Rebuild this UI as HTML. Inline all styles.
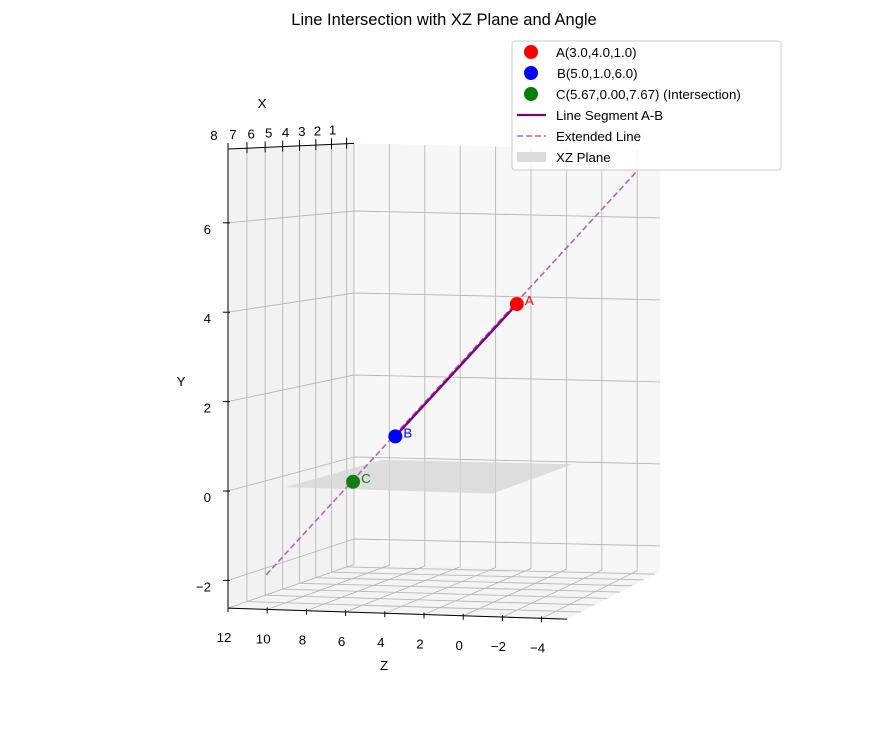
<!DOCTYPE html>
<html><head><meta charset="utf-8"><style>
html,body{margin:0;padding:0;background:#fff;}
svg{display:block;font-family:"Liberation Sans","DejaVu Sans",sans-serif;}
</style></head><body>
<svg id="chart" width="888" height="735" viewBox="0 0 888 735" xmlns="http://www.w3.org/2000/svg">
<text x="444" y="25" text-anchor="middle" font-size="16.5" fill="#000">Line Intersection with XZ Plane and Angle</text>
<g id="panes"></g>
<g id="grid"></g>
<g id="plane"></g>
<g id="series"></g>
<g id="axes"></g>
<text x="262" y="108" text-anchor="middle" font-size="13.3">X</text>
<text x="181" y="386" text-anchor="middle" font-size="13.3">Y</text>
<text x="384" y="670" text-anchor="middle" font-size="13.3">Z</text>
<g>
<rect x="512" y="41" width="269" height="129" rx="3" fill="#fff" fill-opacity="0.8" stroke="#ccc" stroke-width="1"/>
<g><circle cx="531" cy="52" r="7" fill="#ff0000"/><text x="556" y="57" font-size="13.3">A(3.0,4.0,1.0)</text></g>
<g><circle cx="531" cy="73" r="7" fill="#0000ff"/><text x="557" y="78" font-size="13.3">B(5.0,1.0,6.0)</text></g>
<g><circle cx="531" cy="94" r="7" fill="#008000"/><text x="556" y="99" font-size="13.3">C(5.67,0.00,7.67) (Intersection)</text></g>
<g><line x1="517" y1="115" x2="546" y2="115" stroke="#800080" stroke-width="2.2"/><text x="556" y="120" font-size="13.3">Line Segment A-B</text></g>
<g><line x1="517" y1="136" x2="546" y2="136" stroke="#b366b3" stroke-width="1.6" stroke-dasharray="6,3"/><text x="556" y="141" font-size="13.3">Extended Line</text></g>
<g><rect x="517" y="152" width="29" height="10" fill="#dcdcdc"/><text x="556" y="162" font-size="13.3">XZ Plane</text></g>
</g>
</svg>
<script>
const xTicks=[1,2,3,4,5,6,7,8];
const yTicks=[-2,0,2,4,6];
const zTicks=[-4,-2,0,2,4,6,8,10,12];
const xLim=[0.5,8];
const yLim=[-2.62,7.65];
const zLim=[-5.3,12];
const pointNames=["A","B","C"];
const pointX=[3.0,5.0,5.67];
const pointY=[4.0,1.0,0.0];
const pointZ=[1.0,6.0,7.67];
const pointColors=["#ff0000","#0000ff","#137f13"];
const extParams=[-1.05,2.0];
const planeX=[1,7];
const planeZ=[-0.7,10];
const planeYValue=0;

const NS="http://www.w3.org/2000/svg";
function P(x,y,z){
  const u=(8-x)/7.5, c=0.15, t=u*(1+c)/(1+c*u);
  const fx=228+(12-z)*19.6, fy=491-44.7*y+0.64*(12-z);
  const bx=354+(12-z)*17.7, by=457-41*y+0.4*(12-z);
  return [fx+(bx-fx)*t, fy+(by-fy)*t];
}
function mk(tag,attrs,parent,name){
  const e=document.createElementNS(NS,tag);
  for(const k in attrs)e.setAttribute(k,attrs[k]);
  
  
  parent.appendChild(e);return e;
}
function poly(pts){return pts.map(p=>p[0].toFixed(1)+","+p[1].toFixed(1)).join(" ");}
const panes=document.getElementById('panes'),grid=document.getElementById('grid'),axes=document.getElementById('axes'),series=document.getElementById('series'),plane=document.getElementById('plane');
const [x0,x1]=xLim,[y0,y1]=yLim,[z0,z1]=zLim;
mk('polygon',{points:poly([P(x0,y0,z1),P(x0,y0,z0),P(x0,y1,z0),P(x0,y1,z1)]),fill:"#f7f7f7"},panes,'back-pane');
mk('polygon',{points:poly([P(x1,y0,z1),P(x0,y0,z1),P(x0,y1,z1),P(x1,y1,z1)]),fill:"#f2f2f2"},panes,'side-pane');
mk('polygon',{points:poly([P(x1,y0,z1),P(x1,y0,z0),P(x0,y0,z0),P(x0,y0,z1)]),fill:"#f4f4f4"},panes,'floor-pane');
const gs={stroke:"#b8b8b8","stroke-width":0.9,fill:"none"};
function gl(a,b,name){const p=P(...a),q=P(...b);mk('line',Object.assign({x1:p[0],y1:p[1],x2:q[0],y2:q[1]},gs),grid,name);}
zTicks.forEach(z=>gl([x0,y0,z],[x0,y1,z],'back-grid-z'));
yTicks.forEach(y=>gl([x0,y,z1],[x0,y,z0],'back-grid-y'));
xTicks.forEach(x=>gl([x,y0,z1],[x,y1,z1],'side-grid-x'));
yTicks.forEach(y=>gl([x1,y,z1],[x0,y,z1],'side-grid-y'));
zTicks.forEach(z=>gl([x1,y0,z],[x0,y0,z],'floor-grid-z'));
xTicks.forEach(x=>gl([x,y0,z1],[x,y0,z0],'floor-grid-x'));
mk('polygon',{points:poly([P(planeX[1],planeYValue,planeZ[1]),P(planeX[1],planeYValue,planeZ[0]),P(planeX[0],planeYValue,planeZ[0]),P(planeX[0],planeYValue,planeZ[1])]),fill:"#d4d4d4","fill-opacity":0.75},plane,'xz-plane-surface');
const dx=pointX[1]-pointX[0],dy=pointY[1]-pointY[0],dz=pointZ[1]-pointZ[0];
const e0=P(pointX[0]+extParams[0]*dx,pointY[0]+extParams[0]*dy,pointZ[0]+extParams[0]*dz);
const e1=P(pointX[0]+extParams[1]*dx,pointY[0]+extParams[1]*dy,pointZ[0]+extParams[1]*dz);
mk('line',{x1:e1[0],y1:e1[1],x2:e0[0],y2:e0[1],stroke:"#b366b3","stroke-width":1.6,"stroke-dasharray":"6,3"},series,'extended-line');
const pa=P(pointX[0],pointY[0],pointZ[0]),pb=P(pointX[1],pointY[1],pointZ[1]);
mk('line',{x1:pa[0],y1:pa[1],x2:pb[0],y2:pb[1],stroke:"#800080","stroke-width":2.4},series,'line-segment-ab');
pointNames.forEach((n,i)=>{
  const p=P(pointX[i],pointY[i],pointZ[i]);
  mk('circle',{cx:p[0],cy:p[1],r:7,fill:pointColors[i]},series,'point-'+n.toLowerCase());
  const t=mk('text',{x:p[0]+8,y:p[1]+1,"font-size":13.3,fill:pointColors[i]},series,'point-label-'+n.toLowerCase());
  t.textContent=n;
});
function al(a,b,name){const p=P(...a),q=P(...b);mk('line',{x1:p[0],y1:p[1],x2:q[0],y2:q[1],stroke:"#000","stroke-width":1},axes,name);}
al([x1,y0,z1],[x1,y1,z1],'y-axis-line');
al([x1,y0,z1],[x1,y0,z0],'z-axis-line');
al([x1,y1,z1],[x0,y1,z1],'x-axis-line');
const fmt=v=>v<0?"\u2212"+Math.abs(v):String(v);
yTicks.forEach(y=>{const p=P(x1,y,z1);
  mk('line',{x1:p[0]-5,y1:p[1],x2:p[0]+2,y2:p[1],stroke:"#000","stroke-width":1},axes,'y-tick');
  const t=mk('text',{x:p[0]-17,y:p[1]+11,"font-size":13.3,"text-anchor":"end"},axes,'y-tick-label');t.textContent=fmt(y);});
zTicks.forEach(z=>{const p=P(x1,y0,z);
  mk('line',{x1:p[0],y1:p[1]-2,x2:p[0],y2:p[1]+4,stroke:"#000","stroke-width":1},axes,'z-tick');
  const t=mk('text',{x:p[0]-4,y:p[1]+34,"font-size":13.3,"text-anchor":"middle"},axes,'z-tick-label');t.textContent=fmt(z);});
xTicks.forEach(x=>{const p=P(x,y1,z1);
  mk('line',{x1:p[0],y1:p[1]-6,x2:p[0],y2:p[1]+5,stroke:"#000","stroke-width":1},axes,'x-tick');
  const t=mk('text',{x:p[0]-14,y:p[1]-9,"font-size":13.3,"text-anchor":"middle"},axes,'x-tick-label');t.textContent=fmt(x);});
</script>
</body></html>
